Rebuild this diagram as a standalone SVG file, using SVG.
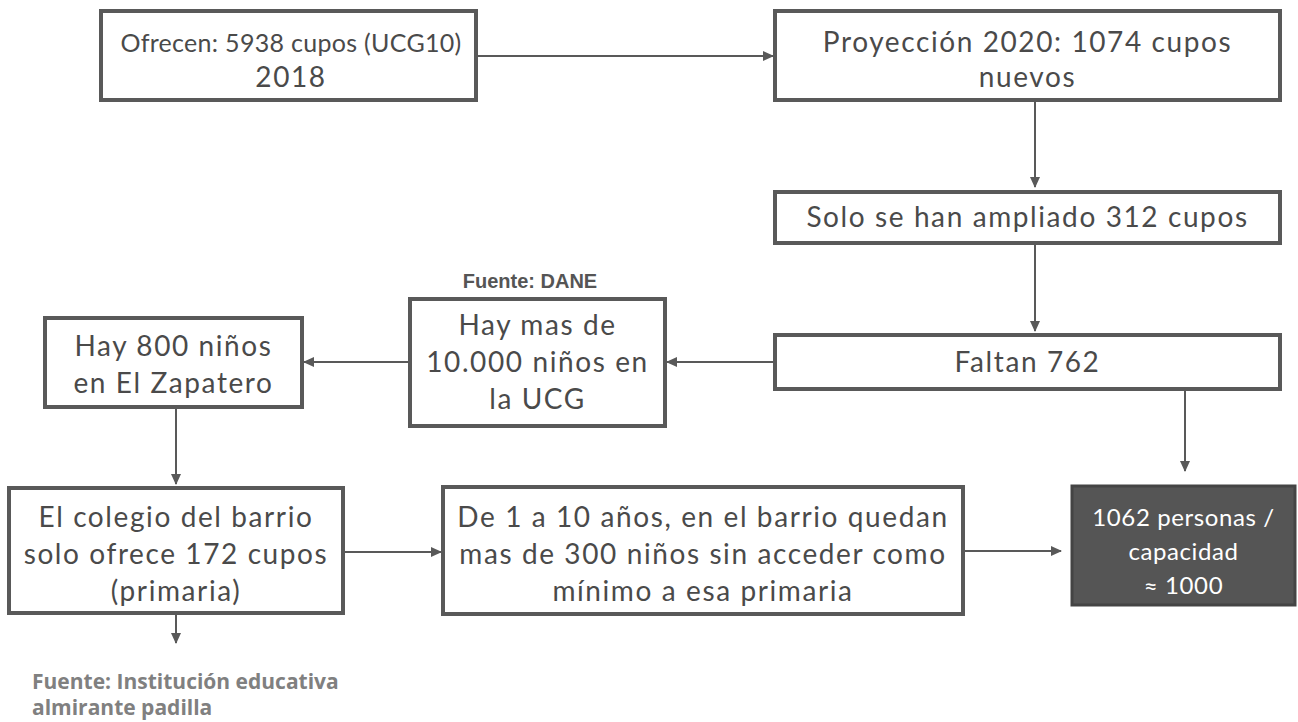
<svg xmlns="http://www.w3.org/2000/svg" width="1298" height="722" viewBox="0 0 1298 722">
<defs>
<style>
.box{fill:#ffffff;stroke:#595959;stroke-width:4}
.dark{fill:#555555;stroke:#444444;stroke-width:3}
.t{font-family:Lato,"Noto Sans",sans-serif;font-size:28px;letter-spacing:1.6px;fill:#4a4a4a;text-anchor:middle}
.t1{font-family:Lato,"Noto Sans",sans-serif;font-size:25px;letter-spacing:0.3px;fill:#4a4a4a;text-anchor:middle}
.tw{font-family:Lato,"Noto Sans",sans-serif;font-size:24px;letter-spacing:0.6px;fill:#ffffff;text-anchor:middle}
.src{font-family:"Liberation Sans",Arial,sans-serif;font-weight:bold;font-size:20px;fill:#555555;text-anchor:middle}
.src2{font-family:"Open Sans","Noto Sans",sans-serif;font-weight:bold;font-size:21px;fill:#808080}
.c{fill:none;stroke:#595959;stroke-width:2}
</style>
<marker id="ah" markerWidth="12" markerHeight="12" refX="10" refY="6" orient="auto" markerUnits="userSpaceOnUse">
<path d="M0,1 L11,6 L0,11 Z" fill="#595959"/>
</marker>
</defs>
<rect width="1298" height="722" fill="#ffffff"/>
<g id="connectors">
<line class="c" x1="476" y1="56" x2="773" y2="56" marker-end="url(#ah)"/>
<line class="c" x1="1035" y1="100" x2="1035" y2="187" marker-end="url(#ah)"/>
<line class="c" x1="1035" y1="243" x2="1035" y2="331" marker-end="url(#ah)"/>
<line class="c" x1="775" y1="362" x2="667" y2="362" marker-end="url(#ah)"/>
<line class="c" x1="410" y1="362" x2="304" y2="362" marker-end="url(#ah)"/>
<line class="c" x1="176" y1="407" x2="176" y2="484" marker-end="url(#ah)"/>
<line class="c" x1="176" y1="613" x2="176" y2="643" marker-end="url(#ah)"/>
<line class="c" x1="343" y1="552" x2="441" y2="552" marker-end="url(#ah)"/>
<line class="c" x1="963" y1="551" x2="1061" y2="551" marker-end="url(#ah)"/>
<line class="c" x1="1185" y1="389" x2="1185" y2="471" marker-end="url(#ah)"/>
</g>
<g id="n1">
<rect class="box" x="101" y="11" width="375" height="89"/>
<text class="t1" x="291" y="52">Ofrecen: 5938 cupos (UCG10)</text>
<text class="t" x="291" y="87">2018</text>
</g>
<g id="n2">
<rect class="box" x="775" y="11" width="505" height="89"/>
<text class="t" x="1027.5" y="52">Proyección 2020: 1074 cupos</text>
<text class="t" x="1027.5" y="87">nuevos</text>
</g>
<g id="n3">
<rect class="box" x="775" y="192" width="505" height="51"/>
<text class="t" x="1027.5" y="227">Solo se han ampliado 312 cupos</text>
</g>
<g id="n4">
<rect class="box" x="775" y="335" width="505" height="54"/>
<text class="t" x="1027.5" y="372">Faltan 762</text>
</g>
<g id="n5">
<text class="src" x="530" y="288">Fuente: DANE</text>
<rect class="box" x="410" y="299" width="255" height="127"/>
<text class="t" x="537.5" y="335">Hay mas de</text>
<text class="t" x="537.5" y="372">10.000 niños en</text>
<text class="t" x="537.5" y="409">la UCG</text>
</g>
<g id="n6">
<rect class="box" x="45" y="318" width="257" height="89"/>
<text class="t" x="173.5" y="356">Hay 800 niños</text>
<text class="t" x="173.5" y="393">en El Zapatero</text>
</g>
<g id="n7">
<rect class="box" x="9" y="488" width="334" height="125"/>
<text class="t" x="176" y="527">El colegio del barrio</text>
<text class="t" x="176" y="564">solo ofrece 172 cupos</text>
<text class="t" x="176" y="601">(primaria)</text>
</g>
<g id="n8">
<rect class="box" x="443" y="487" width="520" height="127"/>
<text class="t" x="703" y="527">De 1 a 10 años, en el barrio quedan</text>
<text class="t" x="703" y="564">mas de 300 niños sin acceder como</text>
<text class="t" x="703" y="601">mínimo a esa primaria</text>
</g>
<g id="n9">
<rect class="dark" x="1072" y="486" width="223" height="119"/>
<text class="tw" x="1183.5" y="526">1062 personas /</text>
<text class="tw" x="1183.5" y="560">capacidad</text>
<text class="tw" x="1183.5" y="594">≈ 1000</text>
</g>
<g id="n10">
<text class="src2" x="32" y="689">Fuente: Institución educativa</text>
<text class="src2" x="32" y="715">almirante padilla</text>
</g>
</svg>
